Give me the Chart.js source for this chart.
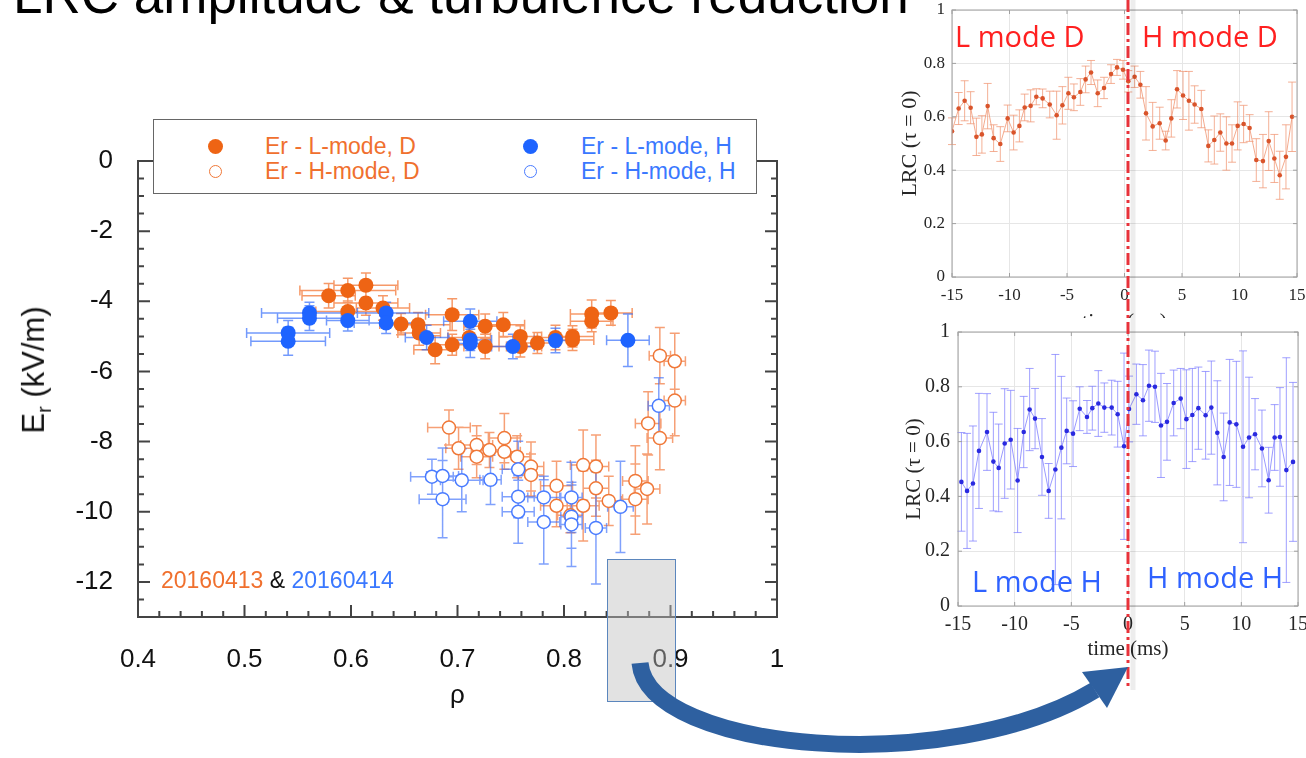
<!DOCTYPE html>
<html>
<head>
<meta charset="utf-8">
<title>LRC amplitude &amp; turbulence reduction</title>
<script src="https://cdn.jsdelivr.net/npm/chart.js@4.4.1/dist/chart.umd.min.js"></script>
<style>
  body { margin: 0; width: 1306px; height: 758px; overflow: hidden; background: #fff; position: relative; font-family: "Liberation Sans", Arial, sans-serif; }
  canvas, .abs { position: absolute; }
  #title { left: 13px; top: -32px; font-size: 53px; line-height: 53px; color: #000; white-space: nowrap; }
  #erChart { left: 0; top: 100px; }
  #erTitle { left: 39px; top: 370px; font-size: 31px; line-height: 31px; white-space: nowrap; color: #111; transform: translate(-50%, -50%) rotate(-90deg); }
  #erTitle sub { font-size: 20px; }
  #legendBox { left: 153px; top: 119px; width: 604px; height: 75px; box-sizing: border-box; border: 1.5px solid #666; background: #fff; }
  .dot { width: 15px; height: 15px; border-radius: 50%; box-sizing: border-box; }
  .ring { width: 13px; height: 13px; border-radius: 50%; box-sizing: border-box; border: 1.5px solid; background: #fff; }
  .leg { font-size: 23px; line-height: 23px; white-space: nowrap; }
  .orange { color: #f0702e; }
  .blue { color: #3a78ff; }
  #shots { left: 161px; top: 569px; font-size: 23px; line-height: 23px; white-space: nowrap; color: #111; }
  #zoomBox { left: 607px; top: 559px; width: 69px; height: 143px; box-sizing: border-box; border: 1.5px solid #5b86bd; background: rgba(190, 190, 190, 0.45); }
  #topWrap { left: 890px; top: 0; width: 416px; height: 318px; overflow: hidden; }
  #lrcD { left: 0; top: 0; }
  #lrcH { left: 890px; top: 318px; }
  .mode { font-family: "Open Sans", "Noto Sans", sans-serif; font-size: 29px; line-height: 40px; white-space: nowrap; }
  .red { color: #ff2020; }
  .mblue { color: #2f62ff; }
  #overlay { position: absolute; left: 0; top: 0; }
</style>
</head>
<body>

<div id="title" class="abs">LRC amplitude &amp; turbulence reduction</div>

<canvas id="erChart" width="800" height="650"></canvas>
<div id="erTitle" class="abs">E<sub>r</sub> (kV/m)</div>

<div id="legendBox" class="abs"></div>
<div class="abs dot" style="left:207.5px;top:139px;background:#ee6414;"></div>
<div class="abs ring" style="left:208.5px;top:164.5px;border-color:#f07838;"></div>
<div class="abs leg orange" style="left:265px;top:135px;">Er - L-mode, D</div>
<div class="abs leg orange" style="left:265px;top:160px;">Er - H-mode, D</div>
<div class="abs dot" style="left:522.5px;top:139px;background:#1e64ff;"></div>
<div class="abs ring" style="left:523.5px;top:164.5px;border-color:#4a7cff;"></div>
<div class="abs leg blue" style="left:581px;top:135px;">Er - L-mode, H</div>
<div class="abs leg blue" style="left:581px;top:160px;">Er - H-mode, H</div>

<div id="shots" class="abs"><span class="orange">20160413</span> &amp; <span class="blue">20160414</span></div>

<div id="zoomBox" class="abs"></div>

<div id="topWrap" class="abs"><canvas id="lrcD" width="416" height="335"></canvas></div>
<canvas id="lrcH" width="416" height="380"></canvas>

<div class="abs mode red" style="left:955px;top:16px;">L mode D</div>
<div class="abs mode red" style="left:1142px;top:16px;">H mode D</div>
<div class="abs mode mblue" style="left:972px;top:561px;">L mode H</div>
<div class="abs mode mblue" style="left:1147px;top:557px;">H mode H</div>

<svg id="overlay" width="1306" height="758">
  <line x1="1133" y1="0" x2="1133" y2="690" stroke="rgba(0,0,0,0.07)" stroke-width="5"/>
  <line x1="1128" y1="0" x2="1128" y2="690" stroke="#e8323a" stroke-width="3" stroke-dasharray="12 4 3 4"/>
  <path d="M 640 663 C 648 752, 950 778, 1095 690" fill="none" stroke="#2e60a0" stroke-width="17"/>
  <polygon points="1128,667 1107,708 1082,672" fill="#2e60a0"/>
</svg>

<script>
// Er profile, L-mode, deuterium (20160413)
const ldRho = [0.579, 0.597, 0.614, 0.614, 0.597, 0.630, 0.647, 0.663, 0.664, 0.679, 0.695, 0.695, 0.711,
  0.726, 0.726, 0.743, 0.759, 0.759, 0.775, 0.792, 0.808, 0.808, 0.826, 0.826, 0.844];
const ldEr = [-3.84, -3.69, -3.54, -4.05, -4.29, -4.19, -4.65, -4.67, -4.90, -5.38, -4.38, -5.24, -5.03,
  -4.71, -5.29, -4.67, -5.00, -5.29, -5.19, -5.03, -5.00, -5.10, -4.36, -4.57, -4.33];
const ldRhoErr = [0.025, 0.045, 0.03, 0.03, 0.03, 0.025, 0.02, 0.03, 0.02, 0.02, 0.025, 0.02, 0.02,
  0.02, 0.02, 0.02, 0.02, 0.02, 0.02, 0.02, 0.02, 0.02, 0.02, 0.02, 0.02];
const ldErErr = [0.35, 0.35, 0.35, 0.35, 0.3, 0.35, 0.3, 0.35, 0.35, 0.4, 0.45, 0.3, 0.3,
  0.35, 0.35, 0.35, 0.3, 0.3, 0.3, 0.35, 0.3, 0.3, 0.4, 0.3, 0.35];

// Er profile, H-mode, deuterium
const hdRho = [0.692, 0.701, 0.718, 0.718, 0.730, 0.744, 0.744, 0.756, 0.769, 0.769, 0.793, 0.793, 0.818,
  0.830, 0.830, 0.818, 0.842, 0.867, 0.867, 0.878, 0.879, 0.890, 0.904, 0.806, 0.890, 0.904];
const hdEr = [-7.60, -8.19, -8.10, -8.43, -8.24, -7.90, -8.29, -8.43, -8.71, -8.95, -9.26, -9.83, -8.67,
  -8.71, -9.33, -9.83, -9.69, -9.12, -9.64, -9.35, -7.48, -7.90, -6.83, -10.10, -5.55, -5.71];
const hdRhoErr = [0.02, 0.012, 0.015, 0.015, 0.015, 0.015, 0.015, 0.012, 0.012, 0.012, 0.015, 0.015, 0.012,
  0.012, 0.012, 0.015, 0.012, 0.012, 0.012, 0.012, 0.012, 0.012, 0.01, 0.012, 0.01, 0.01];
const hdErErr = [0.5, 0.6, 0.55, 0.6, 0.5, 0.7, 0.5, 0.6, 0.7, 0.6, 0.7, 0.6, 1.0,
  0.9, 0.8, 1.0, 0.7, 1.0, 1.0, 1.0, 0.9, 0.9, 1.0, 0.5, 0.8, 0.8];

// Er profile, L-mode, hydrogen (20160414)
const lhRho = [0.541, 0.541, 0.561, 0.561, 0.597, 0.633, 0.633, 0.671, 0.712, 0.712, 0.712, 0.752, 0.792, 0.860];
const lhEr = [-4.90, -5.14, -4.33, -4.48, -4.55, -4.33, -4.62, -5.03, -4.57, -5.10, -5.20, -5.29, -5.12, -5.11];
const lhRhoErr = [0.039, 0.035, 0.045, 0.03, 0.02, 0.04, 0.03, 0.02, 0.025, 0.02, 0.02, 0.02, 0.02, 0.02];
const lhErErr = [0.35, 0.4, 0.3, 0.35, 0.3, 0.3, 0.3, 0.35, 0.35, 0.3, 0.4, 0.35, 0.35, 0.75];

// Er profile, H-mode, hydrogen
const hhRho = [0.676, 0.686, 0.686, 0.704, 0.731, 0.757, 0.757, 0.757, 0.781, 0.781, 0.807, 0.807, 0.807, 0.830, 0.853, 0.889];
const hhEr = [-9.00, -8.98, -9.64, -9.10, -9.09, -8.79, -9.57, -10.00, -9.59, -10.29, -9.59, -10.14, -10.36, -10.46, -9.86, -6.98];
const hhRhoErr = [0.02, 0.015, 0.022, 0.02, 0.01, 0.015, 0.015, 0.015, 0.015, 0.015, 0.01, 0.01, 0.01, 0.01, 0.012, 0.01];
const hhErErr = [0.5, 0.8, 1.1, 0.9, 0.7, 0.8, 0.6, 0.9, 0.6, 1.2, 1.0, 0.9, 1.2, 1.6, 1.3, 0.8];

// LRC vs time, deuterium
const dTime = [-15, -14.42, -13.9, -13.38, -12.88, -12.4, -11.9, -11.38, -10.8, -10.16, -9.64, -9.14, -8.68, -8.16,
  -7.67, -7.12, -6.5, -5.9, -5.4, -4.88, -4.4, -3.84, -3.38, -2.91, -2.33, -1.78, -1.17, -0.65, -0.13, 0.33,
  0.88, 1.38, 1.87, 2.45, 3.06, 3.58, 4.07, 4.57, 5.09, 5.6, 6.1, 6.68, 7.29, 7.81, 8.33, 8.86, 9.35, 9.84,
  10.36, 10.88, 11.46, 12.04, 12.54, 13.03, 13.5, 14.04, 14.57];
const dLrc = [0.546, 0.631, 0.66, 0.634, 0.525, 0.534, 0.64, 0.52, 0.498, 0.594, 0.541, 0.566, 0.635, 0.641,
  0.675, 0.669, 0.646, 0.606, 0.643, 0.688, 0.673, 0.693, 0.74, 0.766, 0.688, 0.708, 0.76, 0.785, 0.776, 0.733,
  0.75, 0.72, 0.613, 0.564, 0.576, 0.511, 0.594, 0.703, 0.68, 0.66, 0.646, 0.629, 0.491, 0.513, 0.541, 0.5, 0.5,
  0.566, 0.573, 0.558, 0.438, 0.434, 0.509, 0.444, 0.381, 0.45, 0.6];
const dLrcErr = [0.05, 0.06, 0.075, 0.06, 0.07, 0.07, 0.085, 0.05, 0.065, 0.05, 0.065, 0.06, 0.05, 0.06,
  0.03, 0.035, 0.05, 0.09, 0.07, 0.06, 0.05, 0.05, 0.05, 0.045, 0.05, 0.04, 0.035, 0.03, 0.035, 0.04,
  0.04, 0.05, 0.1, 0.09, 0.06, 0.035, 0.07, 0.07, 0.09, 0.11, 0.07, 0.07, 0.06, 0.09, 0.07, 0.1, 0.07,
  0.09, 0.07, 0.05, 0.08, 0.1, 0.11, 0.09, 0.09, 0.12, 0.13];

// LRC vs time, hydrogen
const hTime = [-14.7, -14.2, -13.68, -13.15, -12.44, -11.88, -11.41, -10.88, -10.35, -9.74, -9.2, -8.68, -8.2,
  -7.59, -7.0, -6.41, -5.88, -5.41, -4.85, -4.26, -3.62, -3.15, -2.62, -2.09, -1.44, -0.91, -0.35, 0.09,
  0.74, 1.32, 1.85, 2.38, 2.91, 3.44, 4.03, 4.65, 5.15, 5.68, 6.21, 6.85, 7.35, 7.88, 8.44, 8.97, 9.56,
  10.15, 10.68, 11.21, 11.82, 12.41, 12.94, 13.41, 13.97, 14.56];
const hLrc = [0.453, 0.42, 0.447, 0.566, 0.635, 0.527, 0.504, 0.593, 0.607, 0.458, 0.635, 0.717, 0.684,
  0.544, 0.42, 0.498, 0.578, 0.639, 0.629, 0.72, 0.69, 0.722, 0.739, 0.724, 0.724, 0.7, 0.583, 0.719,
  0.773, 0.751, 0.804, 0.8, 0.659, 0.672, 0.741, 0.757, 0.682, 0.697, 0.722, 0.696, 0.724, 0.632, 0.544,
  0.67, 0.663, 0.581, 0.615, 0.627, 0.575, 0.459, 0.615, 0.617, 0.496, 0.526];
const hLrcErr = [0.18, 0.21, 0.21, 0.21, 0.14, 0.18, 0.16, 0.2, 0.18, 0.19, 0.13, 0.15, 0.11,
  0.14, 0.1, 0.42, 0.26, 0.12, 0.12, 0.08, 0.06, 0.08, 0.12, 0.09, 0.1, 0.12, 0.34, 0.12,
  0.11, 0.13, 0.13, 0.13, 0.19, 0.14, 0.12, 0.11, 0.18, 0.17, 0.15, 0.16, 0.17, 0.19, 0.16,
  0.23, 0.23, 0.35, 0.22, 0.13, 0.14, 0.12, 0.12, 0.18, 0.41, 0.29];

// Tick labels
const rhoTicks = [0.4, 0.5, 0.6, 0.7, 0.8, 0.9, 1];
const erTicks = [0, -2, -4, -6, -8, -10, -12];

// Turn the arrays into {x, y, xe, ye} points
function makePoints(xs, ys, xErr, yErr) {
  return xs.map((v, i) => ({ x: v, y: ys[i], xe: xErr ? xErr[i] : 0, ye: yErr[i] }));
}

// Draw error bars through the chart scales
const errorBars = {
  id: 'errorBars',
  beforeDatasetsDraw(chart, args, opts) {
    const { ctx, scales: { x, y } } = chart;
    ctx.save();
    ctx.lineWidth = opts.width;
    for (let i = chart.data.datasets.length - 1; i >= 0; i--) {
      const ds = chart.data.datasets[i];
      if (!ds.errColor) continue;
      ctx.strokeStyle = ds.errColor;
      ctx.beginPath();
      ds.data.forEach(p => {
        const px = x.getPixelForValue(p.x);
        const py = y.getPixelForValue(p.y);
        if (p.ye) {
          const top = y.getPixelForValue(p.y + p.ye);
          const bot = y.getPixelForValue(p.y - p.ye);
          ctx.moveTo(px, top); ctx.lineTo(px, bot);
          ctx.moveTo(px - opts.cap, top); ctx.lineTo(px + opts.cap, top);
          ctx.moveTo(px - opts.cap, bot); ctx.lineTo(px + opts.cap, bot);
        }
        if (p.xe) {
          const l = x.getPixelForValue(p.x - p.xe);
          const r = x.getPixelForValue(p.x + p.xe);
          ctx.moveTo(l, py); ctx.lineTo(r, py);
          ctx.moveTo(l, py - opts.cap); ctx.lineTo(l, py + opts.cap);
          ctx.moveTo(r, py - opts.cap); ctx.lineTo(r, py + opts.cap);
        }
      });
      ctx.stroke();
    }
    ctx.restore();
  }
};

// Box around the plot with inward ticks on all sides
const frameTicks = {
  id: 'frameTicks',
  afterDatasetsDraw(chart, args, o) {
    const { ctx, chartArea: a, scales: { x, y } } = chart;
    const isMajor = (v, step) => Math.abs(v / step - Math.round(v / step)) < 1e-6;
    ctx.save();
    ctx.strokeStyle = o.color;
    ctx.lineWidth = o.width;
    ctx.strokeRect(a.left, a.top, a.right - a.left, a.bottom - a.top);
    ctx.beginPath();
    const nx = Math.round((x.max - x.min) / o.xStep);
    for (let i = 0; i <= nx; i++) {
      const v = x.min + i * o.xStep;
      const len = isMajor(v, o.xMajor) ? o.major : o.minor;
      const px = x.getPixelForValue(v);
      ctx.moveTo(px, a.bottom); ctx.lineTo(px, a.bottom - len);
      ctx.moveTo(px, a.top); ctx.lineTo(px, a.top + len);
    }
    const ny = Math.round((y.max - y.min) / o.yStep);
    for (let i = 0; i <= ny; i++) {
      const v = y.min + i * o.yStep;
      const len = isMajor(v, o.yMajor) ? o.major : o.minor;
      const py = y.getPixelForValue(v);
      ctx.moveTo(a.left, py); ctx.lineTo(a.left + len, py);
      ctx.moveTo(a.right, py); ctx.lineTo(a.right - len, py);
    }
    ctx.stroke();
    ctx.restore();
  }
};

const fmt = v => String(Number(v.toFixed(2)));

// Fixed axis sizes so the plot areas land where the slide has them
function fixX(h) {
  return s => { s.height = h; s.paddingLeft = 0; s.paddingRight = 0; };
}
function fixY(w) {
  return s => { s.width = w; s.paddingTop = 0; s.paddingBottom = 0; };
}

// Main Er(rho) chart
const erChart = new Chart(document.getElementById('erChart'), {
  type: 'scatter',
  data: {
    datasets: [
      {
        label: 'Er - L-mode, H',
        data: makePoints(lhRho, lhEr, lhRhoErr, lhErErr),
        pointRadius: 7.5,
        pointBackgroundColor: '#1e64ff',
        pointBorderColor: '#1e64ff',
        pointBorderWidth: 0,
        errColor: 'rgba(40, 100, 250, 0.65)'
      },
      {
        label: 'Er - L-mode, D',
        data: makePoints(ldRho, ldEr, ldRhoErr, ldErErr),
        pointRadius: 7.5,
        pointBackgroundColor: '#ee6414',
        pointBorderColor: '#ee6414',
        pointBorderWidth: 0,
        errColor: 'rgba(242, 110, 40, 0.7)'
      },
      {
        label: 'Er - H-mode, H',
        data: makePoints(hhRho, hhEr, hhRhoErr, hhErErr),
        pointRadius: 6.5,
        pointBackgroundColor: '#fff',
        pointBorderColor: '#4a7cff',
        pointBorderWidth: 1.5,
        errColor: 'rgba(60, 110, 250, 0.65)'
      },
      {
        label: 'Er - H-mode, D',
        data: makePoints(hdRho, hdEr, hdRhoErr, hdErErr),
        pointRadius: 6.5,
        pointBackgroundColor: '#fff',
        pointBorderColor: '#f07838',
        pointBorderWidth: 1.5,
        errColor: 'rgba(242, 120, 60, 0.7)'
      }
    ]
  },
  options: {
    responsive: false,
    animation: false,
    events: [],
    layout: { padding: { top: 61, right: 23, left: 0, bottom: 0 } },
    plugins: {
      legend: { display: false },
      tooltip: { enabled: false },
      errorBars: { width: 1.5, cap: 5 },
      frameTicks: { color: '#444', width: 2, xStep: 0.02, xMajor: 0.1, yStep: 0.5, yMajor: 2, major: 12, minor: 6 }
    },
    scales: {
      x: {
        type: 'linear',
        min: 0.4,
        max: 1,
        afterFit: fixX(133),
        afterBuildTicks: s => { s.ticks = rhoTicks.map(v => ({ value: v })); },
        grid: { display: false, drawTicks: false },
        border: { display: false },
        ticks: { padding: 27, color: '#111', font: { family: 'Liberation Sans', size: 26 }, callback: fmt },
        title: { display: true, text: 'ρ', color: '#111', font: { family: 'Liberation Sans', size: 26 }, padding: { bottom: 39 } }
      },
      y: {
        type: 'linear',
        min: -13,
        max: 0,
        afterFit: fixY(138),
        afterBuildTicks: s => { s.ticks = erTicks.map(v => ({ value: v })); },
        grid: { display: false, drawTicks: false },
        border: { display: false },
        ticks: { padding: 25, color: '#111', font: { family: 'Liberation Sans', size: 26 }, callback: fmt }
      }
    }
  },
  plugins: [errorBars, frameTicks]
});

// Options shared by the two LRC panels
function lrcOptions(pad, yWidth, xHeight, fontSize, titleSize, yTitlePad, xTitlePad, xLabelPad, yLabelPad) {
  const font = { family: 'Liberation Serif', size: fontSize };
  return {
    responsive: false,
    animation: false,
    events: [],
    layout: { padding: pad },
    plugins: {
      legend: { display: false },
      tooltip: { enabled: false },
      errorBars: { width: 1, cap: 4 },
      frameTicks: { color: '#a0a0a0', width: 1, xStep: 5, xMajor: 5, yStep: 0.2, yMajor: 0.2, major: 4, minor: 4 }
    },
    scales: {
      x: {
        type: 'linear',
        min: -15,
        max: 15,
        afterFit: fixX(xHeight),
        grid: { color: '#e6e6e6', drawTicks: false },
        border: { display: false },
        ticks: { stepSize: 5, padding: xLabelPad, color: '#262626', font: font, callback: fmt },
        title: { display: true, text: 'time (ms)', color: '#262626', font: { family: 'Liberation Serif', size: titleSize }, padding: { top: 0, bottom: xTitlePad } }
      },
      y: {
        type: 'linear',
        min: 0,
        max: 1,
        afterFit: fixY(yWidth),
        grid: { color: '#e6e6e6', drawTicks: false },
        border: { display: false },
        ticks: { stepSize: 0.2, padding: yLabelPad, color: '#262626', font: font, callback: fmt },
        title: { display: true, text: 'LRC (τ = 0)', color: '#262626', font: { family: 'Liberation Serif', size: titleSize }, padding: { top: yTitlePad, bottom: 0 } }
      }
    }
  };
}

// LRC, deuterium
const lrcD = new Chart(document.getElementById('lrcD'), {
  type: 'scatter',
  data: {
    datasets: [{
      data: makePoints(dTime, dLrc, null, dLrcErr),
      showLine: true,
      borderColor: 'rgba(240, 150, 115, 0.8)',
      borderWidth: 1,
      pointRadius: 2.3,
      pointBackgroundColor: '#d9542b',
      pointBorderWidth: 0,
      errColor: 'rgba(240, 150, 115, 0.75)'
    }]
  },
  options: lrcOptions({ top: 10, right: 9, left: 0, bottom: 0 }, 62, 58, 17, 22, 7, 0, 8, 7),
  plugins: [errorBars, frameTicks]
});

// LRC, hydrogen
const lrcH = new Chart(document.getElementById('lrcH'), {
  type: 'scatter',
  data: {
    datasets: [{
      data: makePoints(hTime, hLrc, null, hLrcErr),
      showLine: true,
      borderColor: 'rgba(120, 120, 255, 0.75)',
      borderWidth: 1,
      pointRadius: 2.3,
      pointBackgroundColor: '#2a2ae0',
      pointBorderWidth: 0,
      errColor: 'rgba(120, 120, 255, 0.7)'
    }]
  },
  options: lrcOptions({ top: 14, right: 8, left: 0, bottom: 0 }, 68, 92, 20, 21, 12, 36, 7, 8),
  plugins: [errorBars, frameTicks]
});
</script>
</body>
</html>
